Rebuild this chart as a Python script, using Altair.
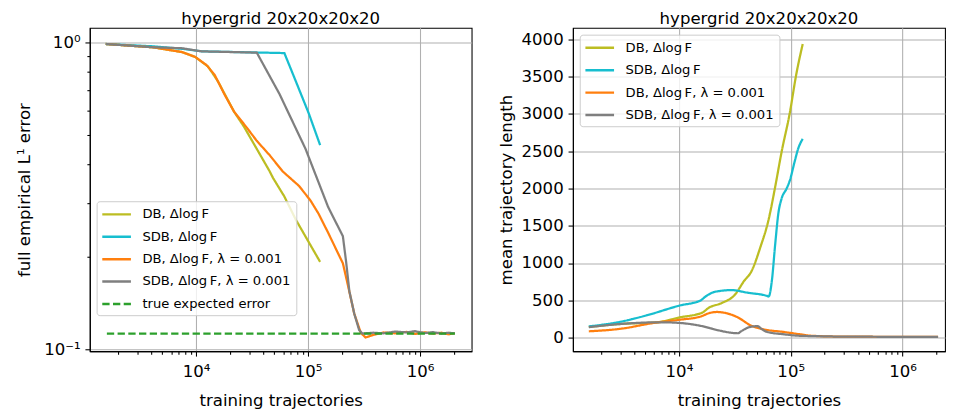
import altair as alt
import pandas as pd

FONT = "DejaVu Sans"
TITLE = "hypergrid 20x20x20x20"

S_DB = "DB, Δlog\u2009F"
S_SDB = "SDB, Δlog\u2009F"
S_DBL = "DB, Δlog\u2009F, λ = 0.001"
S_SDBL = "SDB, Δlog\u2009F, λ = 0.001"
S_TRUE = "true expected error"

COLORS = ["#bcbd22", "#17becf", "#ff7f0e", "#7f7f7f", "#2ca02c"]

# ---------------- left panel: full empirical L1 error ----------------
L_DB_x = [1563, 4115, 7497, 9802, 12800, 15640, 21830, 26660, 34830, 45470, 48630, 61400, 77590, 128000]
L_DB_y = [0.988, 0.964, 0.930, 0.897, 0.834, 0.748, 0.595, 0.533, 0.450, 0.380, 0.362, 0.315, 0.265, 0.193]

L_SDB_x = [1563, 4115, 7497, 11200, 61400, 77590, 101400, 128000]
L_SDB_y = [0.988, 0.971, 0.953, 0.935, 0.923, 0.748, 0.587, 0.463]

L_DBL_x = [1563, 4115, 7497, 9802, 12380, 14630, 17860, 21830, 28470, 34830, 45470, 59400, 82990,
           104800, 123900, 151000, 204300, 225700, 258000, 295100, 326000, 385600, 470700, 600000,
           750000, 900000, 1100000, 1300000, 1550000, 1800000, 2040000]
L_DBL_y = [0.988, 0.964, 0.930, 0.897, 0.844, 0.785, 0.679, 0.595, 0.527, 0.478, 0.429, 0.380, 0.341,
           0.306, 0.277, 0.240, 0.191, 0.163, 0.131, 0.1134, 0.1095, 0.1118, 0.1137, 0.1130,
           0.1142, 0.1125, 0.1138, 0.1128, 0.1135, 0.1122, 0.1132]

L_SDBL_x = [1563, 4115, 7497, 11200, 34830, 55560, 94900, 151000, 204300, 218400, 233400, 258000,
            285300, 305200, 380000, 470000, 600000, 750000, 900000, 1100000, 1300000, 1550000,
            1800000, 2040000]
L_SDBL_y = [0.988, 0.964, 0.957, 0.935, 0.926, 0.679, 0.450, 0.291, 0.234, 0.193, 0.155, 0.131,
            0.1158, 0.1128, 0.1135, 0.1130, 0.1145, 0.1138, 0.1148, 0.1132, 0.1140, 0.1128,
            0.1135, 0.1130]

L_TRUE_x = [1600, 2040000]
L_TRUE_y = [0.1128, 0.1128]

# ---------------- right panel: mean trajectory length ----------------
R_DB_x = [1563, 3045, 6355, 10130, 16170, 18480, 24160, 31530, 38540, 44000, 53700, 63490, 72500,
          82900, 97980, 112000, 128000]
R_DB_y = [145, 185, 207, 272, 336, 401, 465, 573, 767, 875, 1220, 1586, 2017, 2491, 3008, 3526, 3935]

R_SDB_x = [1563, 3045, 5197, 10130, 15640, 17290, 21120, 29500, 41130, 61420, 63490, 67850, 72500,
           77600, 82900, 91700, 97980, 108500, 116600, 128000]
R_SDB_y = [151, 216, 302, 431, 500, 552, 616, 638, 603, 560, 552, 767, 1241, 1672, 1866, 1996, 2103,
           2362, 2534, 2664]

R_DBL_x = [1563, 3045, 5941, 10130, 15640, 18480, 21830, 26660, 33690, 44000, 57390, 85700, 119900,
           156000, 285000, 600000, 2080000]
R_DBL_y = [86, 121, 198, 241, 284, 328, 345, 328, 272, 164, 112, 78, 47, 26, 15, 13, 12]

R_SDBL_x = [1563, 3045, 6790, 10130, 16170, 22560, 33690, 36000, 42580, 50240, 55500, 61420, 85700,
            119900, 156000, 285000, 600000, 2080000]
R_SDBL_y = [142, 185, 207, 198, 155, 99, 60, 86, 142, 155, 112, 78, 47, 26, 22, 15, 13, 12]

# ---------------- ticks ----------------
X_TICKS = [2000, 3000, 4000, 5000, 6000, 7000, 8000, 9000, 10000,
           20000, 30000, 40000, 50000, 60000, 70000, 80000, 90000, 100000,
           200000, 300000, 400000, 500000, 600000, 700000, 800000, 900000, 1000000, 2000000]
Y_LEFT_TICKS = [0.1, 0.2, 0.3, 0.4, 0.5, 0.6, 0.7, 0.8, 0.9, 1.0]
Y_RIGHT_TICKS = [0, 500, 1000, 1500, 2000, 2500, 3000, 3500, 4000]


def frame(series):
    rows = []
    for name, xs, ys in series:
        for xv, yv in zip(xs, ys):
            rows.append({"series": name, "x": xv, "y": yv})
    return pd.DataFrame(rows)


X_MAJOR = "datum.value == 10000 || datum.value == 100000 || datum.value == 1000000"


def x_axis():
    return alt.Axis(
        title="training trajectories",
        values=X_TICKS,
        labelExpr="datum.value == 10000 ? '10⁴' : datum.value == 100000 ? '10⁵' : "
                  "datum.value == 1000000 ? '10⁶' : ''",
        tickSize={"condition": {"test": X_MAJOR, "value": 5}, "value": 3},
        gridOpacity={"condition": {"test": X_MAJOR, "value": 1}, "value": 0},
        labelOverlap=False, labelFlush=False, labelPadding=8, titlePadding=14,
    )


def panel(df, order, colors, dashes, xdom, ydef, yaxis, width, legend_xy, interp):
    legend = alt.Legend(
        title=None, orient="none", legendX=legend_xy[0], legendY=legend_xy[1],
        symbolType="M-2.1,0H2.1", symbolSize=196, symbolStrokeWidth=2.5, symbolOffset=7,
        labelFontSize=13.5, labelFont=FONT, labelColor="black",
        fillColor="rgba(255,255,255,0.8)", strokeColor="#cccccc", cornerRadius=3,
        padding=5, rowPadding=8, labelOffset=18, labelLimit=400,
    )
    layers = []
    for s in order:
        layers.append(
            alt.Chart(df)
            .transform_filter(alt.datum.series == s)
            .mark_line(strokeWidth=2.3, interpolate=interp)
            .encode(
                x=alt.X("x:Q", scale=alt.Scale(type="log", domain=xdom, nice=False), axis=x_axis()),
                y=alt.Y("y:Q", scale=ydef, axis=yaxis),
                color=alt.Color("series:N", scale=alt.Scale(domain=order, range=colors), legend=legend),
                strokeDash=alt.StrokeDash("series:N", scale=alt.Scale(domain=order, range=dashes),
                                          legend=legend),
            )
        )
    return alt.layer(*layers).properties(
        width=width, height=332,
        title=alt.TitleParams(TITLE, fontSize=17, fontWeight="normal", font=FONT, offset=0,
                              anchor="middle", color="black"),
    )


left_df = frame([(S_DB, L_DB_x, L_DB_y), (S_SDB, L_SDB_x, L_SDB_y), (S_DBL, L_DBL_x, L_DBL_y),
                 (S_SDBL, L_SDBL_x, L_SDBL_y), (S_TRUE, L_TRUE_x, L_TRUE_y)])
right_df = frame([(S_DB, R_DB_x, R_DB_y), (S_SDB, R_SDB_x, R_SDB_y), (S_DBL, R_DBL_x, R_DBL_y),
                  (S_SDBL, R_SDBL_x, R_SDBL_y)])

Y_LEFT_MAJOR = "datum.value == 1 || datum.value == 0.1"
left_yaxis = alt.Axis(
    title="full empirical L¹ error",
    values=Y_LEFT_TICKS,
    labelExpr="datum.value == 1 ? '10⁰' : datum.value == 0.1 ? '10⁻¹' : ''",
    tickSize={"condition": {"test": Y_LEFT_MAJOR, "value": 5}, "value": 3},
    gridOpacity={"condition": {"test": Y_LEFT_MAJOR, "value": 1}, "value": 0},
    labelOverlap=False, labelFlush=False, labelPadding=5, titlePadding=10,
)
right_yaxis = alt.Axis(
    title="mean trajectory length", values=Y_RIGHT_TICKS, tickSize=5, format="d",
    labelOverlap=False, labelFlush=False, labelPadding=5, titlePadding=6,
)

order_l = [S_DB, S_SDB, S_DBL, S_SDBL, S_TRUE]
order_r = [S_DB, S_SDB, S_DBL, S_SDBL]
solid = [1, 0]

left = panel(left_df, order_l, COLORS, [solid, solid, solid, solid, [7.5, 3.5]],
             [1127, 2880000], alt.Scale(type="log", domain=[0.0988, 1.115], nice=False),
             left_yaxis, 392, (7, 178), "linear")
right = panel(right_df, order_r, COLORS[:4], [solid, solid, solid, solid],
              [1127, 2400000], alt.Scale(domain=[-181, 4152], nice=False, zero=False),
              right_yaxis, 382, (7, 7), "monotone")

chart = (
    alt.hconcat(left, right, spacing=25)
    .resolve_scale(x="independent", y="independent", color="independent", strokeDash="independent")
    .properties(padding={"left": 8, "top": -4, "right": 0, "bottom": -3})
    .configure_view(stroke="black", strokeWidth=1.1)
    .configure_axis(
        labelFont=FONT, titleFont=FONT, labelFontSize=17, titleFontSize=17,
        labelColor="black", titleColor="black", titleFontWeight="normal",
        tickColor="black", domainColor="black", domainWidth=1.1, tickWidth=1.1,
        gridColor="#b0b0b0", gridWidth=1.1,
    )
)

chart.save("out.html", embed_options={"renderer": "svg", "actions": False})
